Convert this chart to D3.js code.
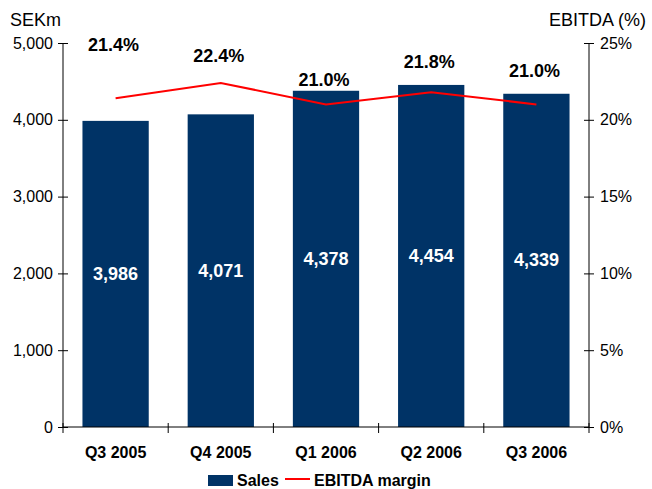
<html>
<script src="https://d3js.org/d3.v7.min.js"></script>
<style>
  body {margin: 0; background: #fff;}
  text {font-family: "Liberation Sans", Arial, sans-serif;}
</style>
<body>
<svg class="chart" width="652" height="489"></svg>
<script>
  const quarters = ['Q3 2005', 'Q4 2005', 'Q1 2006', 'Q2 2006', 'Q3 2006'];
  const sales = [3986, 4071, 4378, 4454, 4339];
  const margin = [21.4, 22.4, 21.0, 21.8, 21.0];
  const salesTicks = [0, 1000, 2000, 3000, 4000, 5000];
  const pctTicks = [0, 5, 10, 15, 20, 25];
  // how far each margin label sits above its point (px)
  const labelDy = [47, 21, 18, 24, 27];

  const plotLeft = 63, plotRight = 589, plotTop = 43, plotBottom = 427;
  const svg = d3.select('svg');

  var x = d3.scaleBand().domain(quarters).range([plotLeft, plotRight]).padding(0);
  var y = d3.scaleLinear().domain([0, 5000]).range([plotBottom, plotTop]);
  var y2 = d3.scaleLinear().domain([0, 25]).range([plotBottom, plotTop]);
  const barW = x.bandwidth() * 0.63;

  // bars
  svg.append('g').selectAll('rect')
    .data(sales)
    .enter()
    .append('rect')
      .attr('x', (d, i) => x(quarters[i]) + (x.bandwidth() - barW) / 2)
      .attr('y', d => y(d))
      .attr('width', barW)
      .attr('height', d => y(0) - y(d))
      .attr('fill', '#003366');

  // bar values
  svg.append('g').selectAll('text')
    .data(sales)
    .enter()
    .append('text')
      .attr('x', (d, i) => x(quarters[i]) + x.bandwidth() / 2)
      .attr('y', d => (y(d) + y(0)) / 2 + 6)
      .attr('text-anchor', 'middle')
      .attr('fill', '#fff')
      .style('font-size', '18px')
      .style('font-weight', 'bold')
      .text(d => d3.format(',')(d));

  // left axis
  var gl = svg.append('g')
    .attr('transform', 'translate(' + plotLeft + ',0)')
    .call(d3.axisLeft(y).tickValues(salesTicks).tickFormat(d3.format(',')).tickSize(5).tickPadding(5));
  gl.selectAll('.tick line').attr('x1', 5);
  gl.selectAll('.tick text').style('font-size', '16px').attr('fill', '#000');
  gl.select('.domain').attr('d', 'M0,' + plotTop + 'V' + plotBottom);

  // right axis
  var gr = svg.append('g')
    .attr('transform', 'translate(' + plotRight + ',0)')
    .call(d3.axisRight(y2).tickValues(pctTicks).tickFormat(d => d + '%').tickSize(5).tickPadding(6));
  gr.selectAll('.tick line').attr('x1', -5);
  gr.selectAll('.tick text').style('font-size', '16px').attr('fill', '#000');
  gr.select('.domain').attr('d', 'M0,' + plotTop + 'V' + plotBottom);

  // bottom axis with ticks on the slot edges
  svg.append('line')
    .attr('x1', plotLeft).attr('x2', plotRight)
    .attr('y1', plotBottom).attr('y2', plotBottom)
    .attr('stroke', '#000');
  var edges = quarters.map(q => x(q)).concat([x(quarters[quarters.length - 1]) + x.bandwidth()]);
  svg.append('g').selectAll('line')
    .data(edges)
    .enter()
    .append('line')
      .attr('x1', d => d).attr('x2', d => d)
      .attr('y1', plotBottom - 4).attr('y2', plotBottom + 6)
      .attr('stroke', '#000');
  svg.append('g').selectAll('text')
    .data(quarters)
    .enter()
    .append('text')
      .attr('x', d => x(d) + x.bandwidth() / 2)
      .attr('y', plotBottom + 31)
      .attr('text-anchor', 'middle')
      .style('font-size', '16px')
      .style('font-weight', 'bold')
      .text(d => d);

  // axis titles
  svg.append('text').attr('x', 10).attr('y', 26).style('font-size', '18px').text('SEKm');
  svg.append('text').attr('x', 646).attr('y', 26).attr('text-anchor', 'end').style('font-size', '18px').text('EBITDA (%)');

  // EBITDA margin line
  var line = d3.line()
    .x((d, i) => x(quarters[i]) + x.bandwidth() / 2)
    .y(d => y2(d));
  svg.append('path')
    .datum(margin)
    .attr('d', line)
    .attr('fill', 'none')
    .attr('stroke', '#ff0000')
    .attr('stroke-width', 2);

  svg.append('g').selectAll('text')
    .data(margin)
    .enter()
    .append('text')
      .attr('x', (d, i) => x(quarters[i]) + x.bandwidth() / 2 - 2)
      .attr('y', (d, i) => y2(d) - labelDy[i])
      .attr('text-anchor', 'middle')
      .style('font-size', '18px')
      .style('font-weight', 'bold')
      .text(d => d.toFixed(1) + '%');

  // legend
  var lg = svg.append('g');
  lg.append('rect').attr('x', 208).attr('y', 475).attr('width', 25).attr('height', 11).attr('fill', '#003366');
  lg.append('text').attr('x', 237).attr('y', 486).style('font-size', '16px').style('font-weight', 'bold').text('Sales');
  lg.append('line').attr('x1', 285).attr('x2', 310).attr('y1', 479).attr('y2', 479).attr('stroke', '#ff0000').attr('stroke-width', 2);
  lg.append('text').attr('x', 314).attr('y', 486).style('font-size', '16px').style('font-weight', 'bold').text('EBITDA margin');
</script>
</body>
</html>
